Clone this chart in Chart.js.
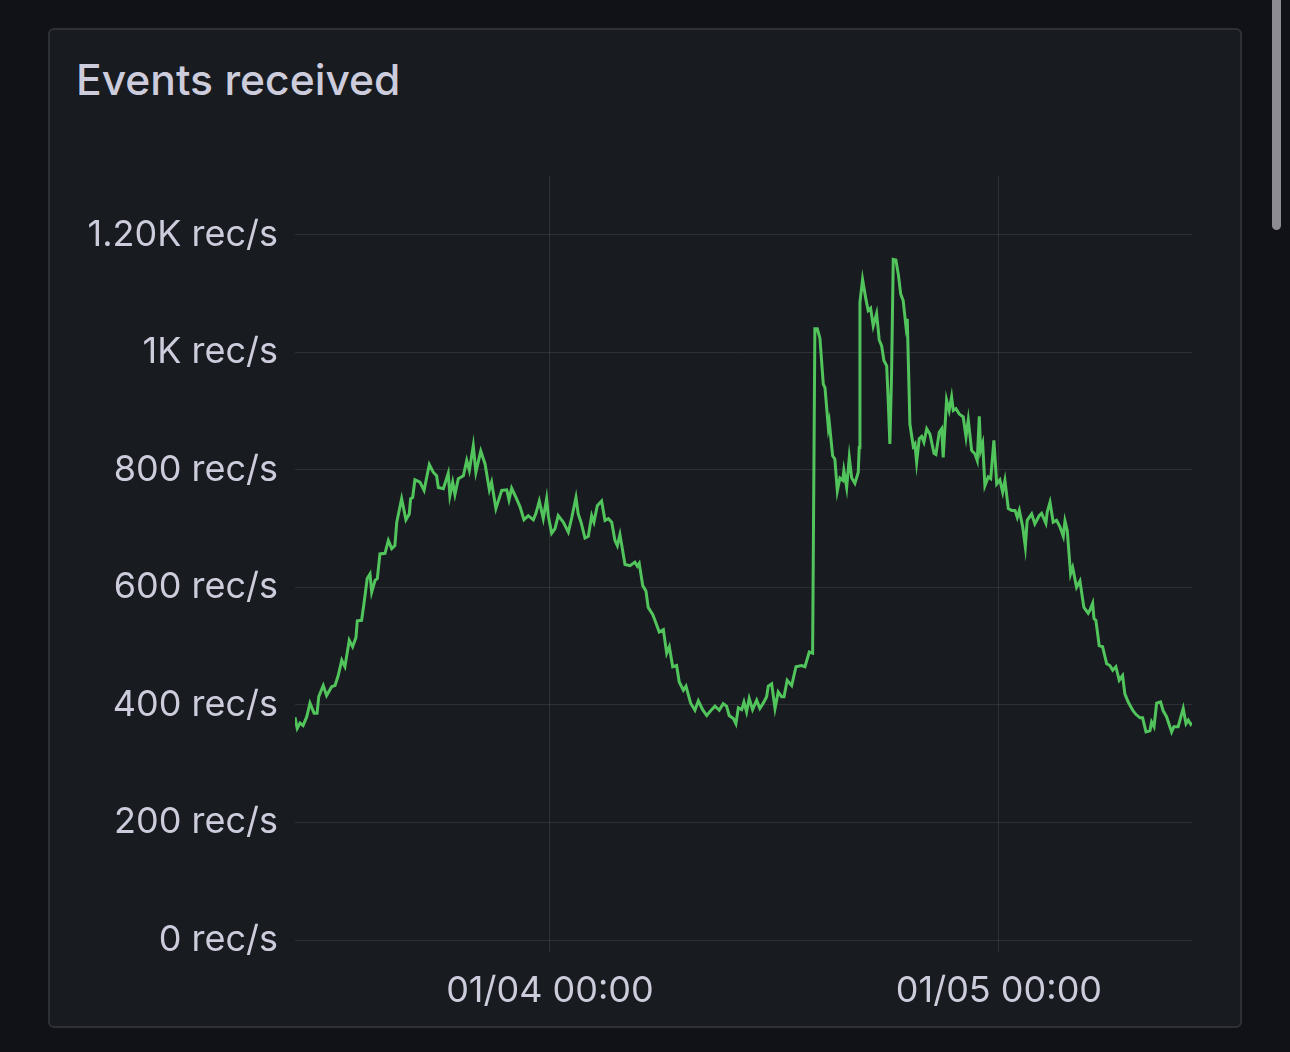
<!DOCTYPE html>
<html>
<head>
<meta charset="utf-8">
<script src="https://cdn.jsdelivr.net/npm/chart.js@4"></script>
<style>
  html, body { margin: 0; padding: 0; background: #111217; width: 1290px; height: 1052px; overflow: hidden; }
  .panel { position: absolute; left: 48px; top: 28px; width: 1190px; height: 996px; background: #181b1f; border: 2px solid #2d3036; border-radius: 6px; }
  .title { position: absolute; left: 76px; top: 54px; color: #ccccdc; font: 500 42.6px Inter, sans-serif; }
  .scroll { position: absolute; left: 1272px; top: -8px; width: 9px; height: 238px; background: #8e8c93; border-radius: 5px; }
  canvas { position: absolute; left: 0; top: 0; }
</style>
</head>
<body>
<div class="panel"></div>
<div class="title">Events received</div>
<div class="scroll"></div>
<canvas id="myChart" width="1290" height="1052"></canvas>
<script>
  // hours relative to 01/04 00:00
  const hours = [
    -13.63, -13.51, -13.36, -13.20, -13.00, -12.83, -12.61, -12.45, -12.36, -12.12,
    -11.94, -11.67, -11.49, -11.32, -11.13, -10.96, -10.73, -10.55, -10.37, -10.30,
    -10.07, -9.94, -9.77, -9.62, -9.53, -9.35, -9.23, -9.09, -8.82, -8.64,
    -8.46, -8.29, -8.19, -7.93, -7.70, -7.52, -7.45, -7.34, -7.22, -6.95,
    -6.73, -6.45, -6.24, -6.06, -5.97, -5.70, -5.44, -5.35, -5.20, -5.08,
    -4.90, -4.63, -4.45, -4.31, -4.10, -3.96, -3.70, -3.47, -3.24, -3.12,
    -2.89, -2.58, -2.31, -2.19, -2.05, -1.82, -1.60, -1.39, -1.16, -0.89,
    -0.75, -0.57, -0.36, -0.18, -0.09, 0.09, 0.27, 0.44, 0.71, 0.98,
    1.16, 1.39, 1.51, 1.66, 1.87, 2.05, 2.23, 2.35, 2.53, 2.76,
    2.94, 3.12, 3.30, 3.47, 3.60, 3.74, 4.01, 4.28, 4.54, 4.67,
    4.77, 4.96, 5.13, 5.25, 5.49, 5.67, 5.84, 6.06, 6.24, 6.38,
    6.56, 6.77, 6.91, 7.13, 7.27, 7.52, 7.75, 7.93, 8.16, 8.38,
    8.64, 8.82, 9.05, 9.26, 9.44, 9.58, 9.80, 9.94, 10.07, 10.25,
    10.37, 10.51, 10.65, 10.83, 11.05, 11.22, 11.40, 11.58, 11.67, 11.85,
    12.03, 12.20, 12.38, 12.51, 12.68, 12.92, 13.15, 13.45, 13.63, 13.86,
    14.04, 14.16, 14.29, 14.43, 14.61, 14.70, 14.88, 14.93, 15.11, 15.23,
    15.36, 15.50, 15.65, 15.71, 15.86, 16.00, 16.13, 16.30, 16.48, 16.53,
    16.57, 16.71, 16.89, 17.01, 17.14, 17.28, 17.46, 17.60, 17.73, 17.85,
    18.00, 18.08, 18.17, 18.26, 18.35, 18.49, 18.62, 18.75, 18.88, 19.03,
    19.10, 19.24, 19.42, 19.51, 19.60, 19.74, 19.87, 19.99, 20.14, 20.31,
    20.53, 20.63, 20.81, 20.94, 21.02, 21.20, 21.34, 21.47, 21.56, 21.70,
    21.88, 21.92, 22.09, 22.24, 22.36, 22.54, 22.72, 22.84, 22.95, 23.02,
    23.13, 23.25, 23.43, 23.56, 23.73, 23.88, 24.05, 24.20, 24.32, 24.50,
    24.68, 24.86, 24.98, 25.09, 25.27, 25.41, 25.51, 25.75, 25.92, 26.15,
    26.28, 26.51, 26.58, 26.73, 26.90, 27.08, 27.26, 27.44, 27.53, 27.65,
    27.83, 27.94, 28.15, 28.33, 28.54, 28.77, 28.86, 29.01, 29.08, 29.18,
    29.36, 29.54, 29.76, 29.93, 30.08, 30.25, 30.43, 30.61, 30.73, 30.91,
    31.15, 31.32, 31.54, 31.68, 31.86, 32.07, 32.16, 32.29, 32.43, 32.64,
    32.78, 32.96, 33.23, 33.35, 33.58, 33.85, 34.00, 34.12, 34.25, 34.32
  ];
  const rate = [
    379, 360, 369, 365, 380, 403, 386, 386, 414, 433,
    416, 431, 433, 450, 476, 465, 510, 499, 515, 543,
    544, 573, 615, 623, 592, 612, 615, 657, 658, 680,
    666, 671, 711, 751, 715, 725, 751, 753, 783, 779,
    765, 809, 796, 790, 770, 768, 794, 756, 779, 758,
    785, 790, 816, 799, 841, 796, 832, 810, 766, 779,
    734, 765, 766, 749, 769, 753, 737, 715, 722, 715,
    726, 747, 717, 751, 722, 692, 700, 722, 711, 694,
    718, 753, 725, 711, 684, 687, 722, 711, 739, 747,
    714, 717, 711, 680, 671, 690, 639, 637, 643, 636,
    641, 603, 594, 566, 554, 539, 524, 528, 488, 499,
    465, 467, 439, 425, 432, 403, 391, 407, 392, 382,
    392, 398, 391, 402, 398, 382, 377, 368, 395, 392,
    405, 388, 411, 392, 408, 394, 403, 414, 432, 436,
    394, 422, 414, 414, 442, 433, 465, 467, 465, 490,
    488, 1040, 1040, 1024, 946, 940, 872, 881, 824, 818,
    764, 786, 782, 799, 770, 821, 786, 777, 796, 838,
    1085, 1124, 1090, 1071, 1075, 1045, 1066, 1021, 1011, 986,
    977, 918, 844, 963, 1158, 1157, 1133, 1099, 1088, 1044,
    1057, 878, 840, 844, 813, 853, 857, 847, 870, 861,
    828, 826, 864, 870, 821, 919, 901, 924, 901, 904,
    895, 894, 890, 856, 885, 833, 827, 816, 891, 833,
    845, 773, 788, 785, 850, 776, 783, 762, 782, 734,
    731, 731, 719, 731, 703, 669, 714, 725, 708, 722,
    726, 709, 728, 745, 711, 714, 703, 687, 713, 697,
    623, 634, 600, 611, 566, 556, 561, 573, 547, 544,
    501, 499, 470, 467, 459, 465, 442, 450, 419, 405,
    391, 384, 378, 378, 354, 356, 371, 363, 403, 405,
    390, 380, 354, 363, 363, 394, 368, 374, 367, 370
  ];
  const yTicks = [0, 200, 400, 600, 800, 1000, 1200];
  const yTickLabels = ['0 rec/s', '200 rec/s', '400 rec/s', '600 rec/s', '800 rec/s', '1K rec/s', '1.20K rec/s'];
  const xTicks = [0, 24];
  const xTickLabels = ['01/04 00:00', '01/05 00:00'];

  const gridColor = 'rgba(204, 204, 220, 0.12)';
  const textColor = '#ccccdc';

  const ctx = document.getElementById('myChart');

  new Chart(ctx, {
    type: 'line',
    data: {
      datasets: [{
        label: 'Events received',
        data: hours.map((h, i) => ({ x: h, y: rate[i] })),
        borderColor: '#52c45c',
        borderWidth: 3,
        pointRadius: 0,
        tension: 0,
        fill: false
      }]
    },
    options: {
      responsive: false,
      animation: false,
      devicePixelRatio: 1,
      layout: { padding: { left: 0, top: 176, right: 98, bottom: 0 } },
      plugins: {
        legend: { display: false },
        tooltip: { enabled: false }
      },
      scales: {
        x: {
          type: 'linear',
          min: -13.63,
          max: 34.32,
          afterBuildTicks: (scale) => { scale.ticks = xTicks.map(v => ({ value: v })); },
          afterFit: (scale) => { scale.height = 112; },
          ticks: {
            color: textColor,
            font: { family: 'Inter', size: 36 },
            padding: 18,
            maxRotation: 0,
            callback: (v, i) => xTickLabels[i]
          },
          grid: { color: gridColor, tickColor: gridColor, tickLength: 12, drawTicks: true },
          border: { display: false }
        },
        y: {
          min: 0,
          max: 1300,
          afterBuildTicks: (scale) => { scale.ticks = yTicks.map(v => ({ value: v })); },
          afterFit: (scale) => { scale.width = 295; },
          ticks: {
            color: textColor,
            font: { family: 'Inter', size: 36 },
            padding: 17,
            callback: (v, i) => yTickLabels[i]
          },
          grid: { color: gridColor, drawTicks: false },
          border: { display: false }
        }
      }
    }
  });
</script>
</body>
</html>
